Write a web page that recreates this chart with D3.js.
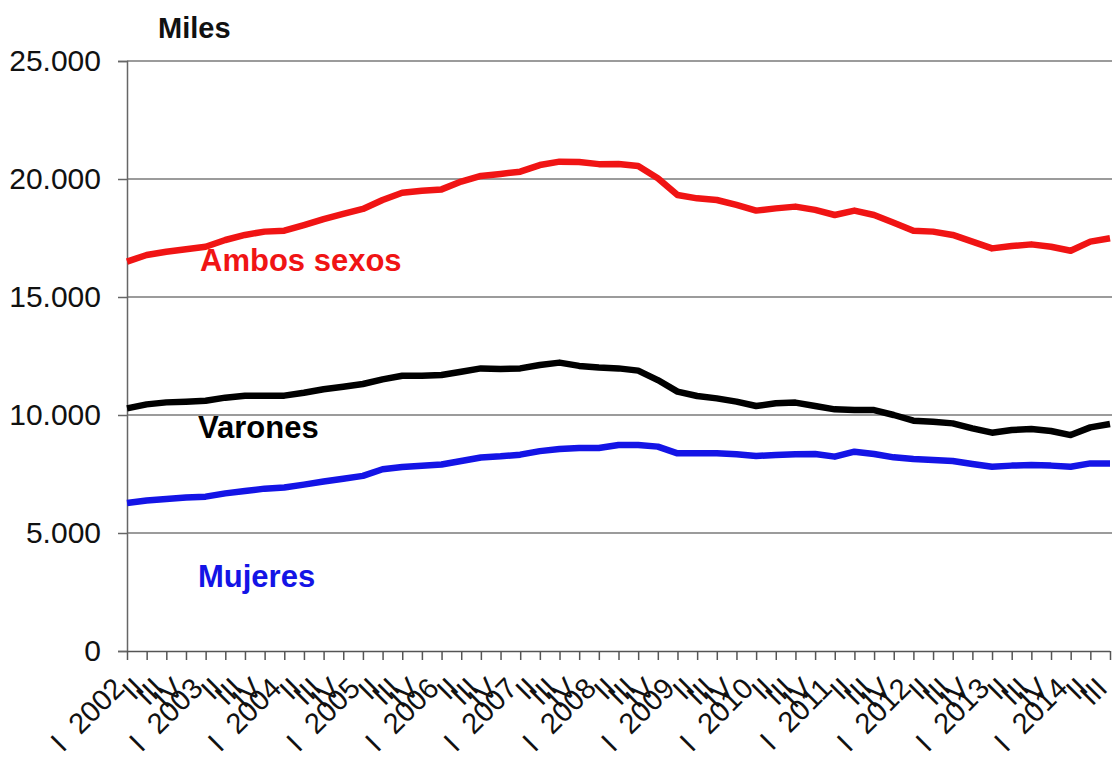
<!DOCTYPE html>
<html>
<head>
<meta charset="utf-8">
<script src="https://cdn.jsdelivr.net/npm/d3@7/dist/d3.min.js"></script>
<style>
  body { margin: 0; background: #fff; }
  text { font-family: "Liberation Sans", Arial, sans-serif; }
</style>
</head>
<body>
<svg id="chart" width="1115" height="761"></svg>
<script>
// Quarterly periods, 2002 I to 2014 III
const years = [2002, 2003, 2004, 2005, 2006, 2007, 2008, 2009, 2010, 2011, 2012, 2013, 2014];
const quarters = ["I", "II", "III", "IV"];
const periods = years.flatMap(y => quarters.map(q => ({ year: y, q: q })))
  .slice(0, 51);
const categories = periods.map(p => p.year + " " + p.q);

// Values in thousands of persons
const ambosSexos = [
  16500, 16780, 16920, 17020, 17130, 17415, 17630, 17770, 17810, 18050,
  18300, 18520, 18730, 19110, 19420, 19505, 19560, 19890, 20130, 20215,
  20310, 20590, 20735, 20720, 20630, 20636, 20550, 20030, 19320, 19180,
  19110, 18900, 18660, 18755, 18830, 18690, 18475, 18660, 18475, 18150,
  17810, 17770, 17630, 17345, 17060, 17160, 17230, 17130, 16960, 17345,
  17490
];
const varones = [
  10280, 10450, 10535, 10565, 10605, 10735, 10820, 10820, 10820, 10945,
  11090, 11200, 11315, 11510, 11665, 11665, 11695, 11835, 11975, 11950,
  11975, 12120, 12220, 12080, 12010, 11975, 11880, 11480, 10990, 10805,
  10705, 10565, 10380, 10495, 10525, 10380, 10240, 10210, 10210, 10000,
  9760, 9715, 9645, 9435, 9250, 9365, 9405, 9320, 9150, 9475,
  9620
];
const mujeres = [
  6270, 6380, 6440, 6500, 6540, 6680, 6780, 6880, 6930, 7050,
  7180, 7300, 7420, 7700, 7800, 7850, 7900, 8050, 8200, 8250,
  8320, 8470, 8560, 8600, 8600, 8730, 8730, 8660, 8375, 8375,
  8375, 8335, 8265, 8305, 8335, 8350, 8235, 8445, 8350, 8205,
  8135, 8095, 8050, 7925, 7810, 7855, 7880, 7855, 7810, 7950,
  7950
];
const yTicks = [0, 5000, 10000, 15000, 20000, 25000];

const series = [
  { name: "Ambos sexos", values: ambosSexos, color: "#f01414", lx: 200, ly: 271 },
  { name: "Varones", values: varones, color: "#000000", lx: 198, ly: 438 },
  { name: "Mujeres", values: mujeres, color: "#1414e6", lx: 198, ly: 587 }
];

const svg = d3.select("#chart");
const plotLeft = 127, plotRight = 1110, plotTop = 61, plotBottom = 651;

const x = d3.scalePoint().domain(categories).range([plotLeft, plotRight]);
const y = d3.scaleLinear().domain([0, 25000]).range([plotBottom, plotTop]);

const locale = d3.formatLocale({ decimal: ",", thousands: ".", grouping: [3], currency: ["", " €"] });
const fmt = locale.format(",");

// Horizontal gridlines
svg.append("g")
  .selectAll("line")
  .data(yTicks.filter(t => t > 0))
  .join("line")
  .attr("x1", plotLeft).attr("x2", plotRight + 2)
  .attr("y1", d => y(d)).attr("y2", d => y(d))
  .attr("stroke", "#7a7a7a").attr("stroke-width", 1.5);

// Y axis
const yAxis = svg.append("g")
  .attr("transform", `translate(${plotLeft},0)`)
  .call(d3.axisLeft(y).tickValues(yTicks).tickSize(9).tickPadding(17).tickFormat(fmt));
yAxis.select(".domain").attr("stroke", "#666").attr("stroke-width", 1.5);
yAxis.selectAll(".tick line").attr("stroke", "#666").attr("stroke-width", 1.5);
yAxis.selectAll(".tick text")
  .attr("font-size", 30).attr("fill", "#111")
  .attr("font-family", "'Liberation Sans', Arial, sans-serif");

// X axis
const xAxis = svg.append("g")
  .attr("transform", `translate(0,${plotBottom})`)
  .call(d3.axisBottom(x).tickSize(9).tickFormat(""));
xAxis.select(".domain").attr("stroke", "#555").attr("stroke-width", 1.5)
  .attr("d", `M${plotLeft},0.5H${plotRight}`);
xAxis.selectAll(".tick line").attr("stroke", "#555").attr("stroke-width", 1.5);

// Rotated quarter labels; first quarter carries the year after a gap
const xLabels = svg.append("g")
  .selectAll("text")
  .data(periods)
  .join("text")
  .attr("transform", (d, i) => `translate(${x(categories[i]) - 1},690) rotate(-45)`)
  .attr("text-anchor", "end")
  .attr("font-size", 29)
  .attr("fill", "#111");
xLabels.append("tspan").text(d => d.q);
xLabels.filter(d => d.q === "I")
  .append("tspan").attr("dx", 17).text(d => d.year);

// Series lines
const line = d3.line()
  .x((d, i) => x(categories[i]))
  .y(d => y(d));

svg.append("g")
  .selectAll("path")
  .data(series)
  .join("path")
  .attr("d", d => line(d.values))
  .attr("fill", "none")
  .attr("stroke", d => d.color)
  .attr("stroke-width", 6.5)
  .attr("stroke-linejoin", "round")
  .attr("stroke-linecap", "butt");

// Series labels
svg.append("g")
  .selectAll("text")
  .data(series)
  .join("text")
  .attr("x", d => d.lx).attr("y", d => d.ly)
  .attr("font-size", 31).attr("font-weight", "bold")
  .attr("fill", d => d.color)
  .text(d => d.name);

// Unit label
svg.append("text")
  .attr("x", 158).attr("y", 38)
  .attr("font-size", 29).attr("font-weight", "bold")
  .attr("fill", "#111")
  .text("Miles");
</script>
</body>
</html>
